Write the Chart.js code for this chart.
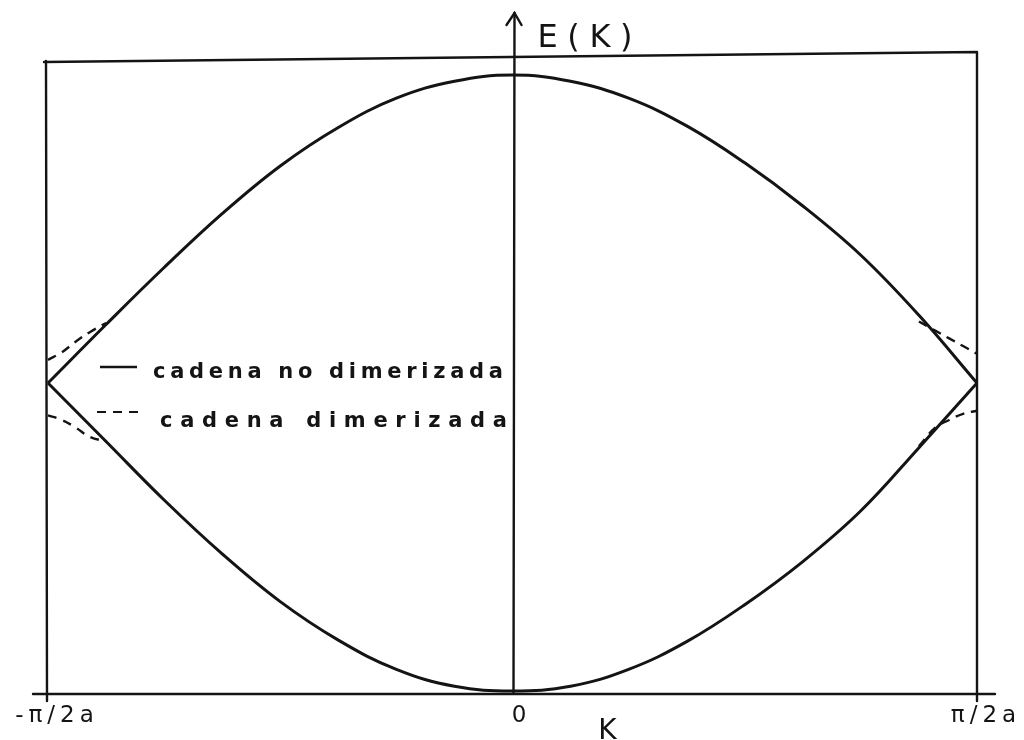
<!DOCTYPE html>
<html>
<head>
<meta charset="utf-8">
<script src="https://cdn.jsdelivr.net/npm/chart.js@4.4.1/dist/chart.umd.min.js"></script>
<style>
  html, body { margin: 0; padding: 0; background: #ffffff; }
  #wrap { width: 1024px; height: 740px; }
</style>
</head>
<body>
<div id="wrap"><canvas id="c" width="1024" height="740"></canvas></div>
<script>
// Wave vector k, in units of π/2a (first zone of the doubled cell)
const kGrid = [-1, -0.875, -0.75, -0.625, -0.5, -0.375, -0.25, -0.125, 0,
               0.125, 0.25, 0.375, 0.5, 0.625, 0.75, 0.875, 1];

// Non-dimerized chain: folded band, energy in units of t
const upperBand = [0, 0.38, 0.75, 1.10, 1.41, 1.66, 1.85, 1.96, 2.00,
                   1.96, 1.85, 1.67, 1.43, 1.15, 0.83, 0.44, 0];
const lowerBand = [0, -0.38, -0.76, -1.11, -1.42, -1.67, -1.86, -1.97, -2.00,
                   -1.97, -1.86, -1.68, -1.44, -1.16, -0.83, -0.42, 0];

// Dimerized chain: the gap opens at the zone edges
const dimKLeft = [-1, -0.97, -0.94, -0.91, -0.875];
const dimUpperLeft = [0.15, 0.20, 0.27, 0.33, 0.39];
const dimLowerLeft = [-0.21, -0.24, -0.29, -0.35, -0.38];
const dimKRight = [0.875, 0.91, 0.94, 0.97, 1];
const dimUpperRight = [0.40, 0.34, 0.29, 0.24, 0.19];
const dimLowerRight = [-0.41, -0.29, -0.24, -0.20, -0.18];

// Axis ticks and texts
const tickValues = [-1, 0, 1];
const tickLabels = ['-π/2a', '0', 'π/2a'];
const legendLabels = ['cadena no dimerizada', 'cadena dimerizada'];
const xTitle = 'K';
const yTitle = 'E(K)';

const INK = '#141414';
const pts = (xs, ys) => xs.map((x, i) => ({ x: x, y: ys[i] }));

function bandSet(label, xs, ys, dashed) {
  return {
    label: label,
    data: pts(xs, ys),
    borderColor: INK,
    borderWidth: dashed ? 2.4 : 3,
    borderDash: dashed ? [9, 7] : [],
    pointRadius: 0,
    tension: 0.4,
    fill: false,
    clip: false
  };
}

// Draw text stretched to a given width with letter spacing
function spacedText(ctx, text, x, y, width) {
  ctx.letterSpacing = '0px';
  const w0 = ctx.measureText(text).width;
  const sp = Math.max(0, (width - w0) / Math.max(1, text.length - 1));
  ctx.letterSpacing = sp + 'px';
  ctx.fillText(text, x, y);
  ctx.letterSpacing = '0px';
}

const framePlugin = {
  id: 'frame',
  beforeDraw(chart) {
    chart.ctx.letterSpacing = '5px';
  },
  beforeDatasetsDraw(chart) {
    const ctx = chart.ctx;
    ctx.letterSpacing = '0px';
    const xs = chart.scales.x, ys = chart.scales.y;
    const L = xs.getPixelForValue(-1), R = xs.getPixelForValue(1);
    const Z = xs.getPixelForValue(0);
    const B = ys.getPixelForValue(ys.min);
    const T = chart.chartArea.top;
    ctx.save();
    ctx.strokeStyle = INK;
    ctx.lineWidth = 2.4;
    ctx.lineCap = 'round';
    ctx.beginPath();
    // outer box, top edge slightly tilted as on the sheet
    ctx.moveTo(L - 4, T + 10); ctx.lineTo(R, T);
    ctx.moveTo(L - 2, T + 9); ctx.lineTo(L - 1, B + 7);
    ctx.moveTo(R, T); ctx.lineTo(R, B + 7);
    ctx.moveTo(L - 15, B); ctx.lineTo(R + 18, B);
    // energy axis with arrow
    ctx.moveTo(Z + 1, B); ctx.lineTo(Z + 2, T - 39);
    ctx.stroke();
    ctx.beginPath();
    ctx.moveTo(Z - 6, T - 27); ctx.lineTo(Z + 2, T - 39); ctx.lineTo(Z + 9, T - 27);
    ctx.stroke();
    ctx.restore();
  },
  afterDraw(chart) {
    const ctx = chart.ctx;
    const xs = chart.scales.x;
    const L = xs.getPixelForValue(-1);
    const Z = xs.getPixelForValue(0);
    ctx.save();
    ctx.fillStyle = INK;
    ctx.strokeStyle = INK;
    ctx.textBaseline = 'alphabetic';
    ctx.textAlign = 'left';

    // legend
    ctx.lineWidth = 2.6;
    ctx.beginPath();
    ctx.moveTo(L + 52, 367); ctx.lineTo(L + 89, 367);
    ctx.stroke();
    ctx.setLineDash([9, 7]);
    ctx.lineWidth = 2.2;
    ctx.beginPath();
    ctx.moveTo(L + 49, 412); ctx.lineTo(L + 93, 412);
    ctx.stroke();
    ctx.setLineDash([]);
    ctx.font = 'bold 21px "DejaVu Sans"';
    spacedText(ctx, legendLabels[0], L + 105, 378, 350);
    spacedText(ctx, legendLabels[1], L + 112, 427, 347);

    // axis titles
    ctx.font = '32px "DejaVu Sans"';
    spacedText(ctx, yTitle, Z + 25, 47, 95);
    ctx.font = '28px "DejaVu Sans"';
    ctx.textAlign = 'center';
    ctx.fillText(xTitle, Z + 95, 739);
    ctx.restore();
  }
};

new Chart(document.getElementById('c'), {
  type: 'line',
  data: {
    datasets: [
      bandSet(legendLabels[0], kGrid, upperBand, false),
      bandSet(legendLabels[0], kGrid, lowerBand, false),
      bandSet(legendLabels[1], dimKLeft, dimUpperLeft, true),
      bandSet(legendLabels[1], dimKLeft, dimLowerLeft, true),
      bandSet(legendLabels[1], dimKRight, dimUpperRight, true),
      bandSet(legendLabels[1], dimKRight, dimLowerRight, true)
    ]
  },
  options: {
    responsive: false,
    animation: false,
    devicePixelRatio: 1,
    events: [],
    layout: { padding: { top: 52, left: 48, right: 47, bottom: 0 } },
    plugins: { legend: { display: false }, tooltip: { enabled: false } },
    scales: {
      x: {
        type: 'linear',
        min: -1,
        max: 1,
        grid: { display: false, drawTicks: false },
        border: { display: false },
        afterBuildTicks(scale) {
          scale.ticks = tickValues.map(v => ({ value: v }));
        },
        afterFit(scale) { scale.height = 46; },
        ticks: {
          color: INK,
          font: { family: 'DejaVu Sans', size: 23 },
          padding: 8,
          labelOffset: 9,
          maxRotation: 0,
          autoSkip: false,
          callback: (v) => tickLabels[tickValues.indexOf(v)]
        }
      },
      y: {
        type: 'linear',
        min: -2.02,
        max: 2.15,
        display: false
      }
    }
  },
  plugins: [framePlugin]
});
</script>
</body>
</html>
